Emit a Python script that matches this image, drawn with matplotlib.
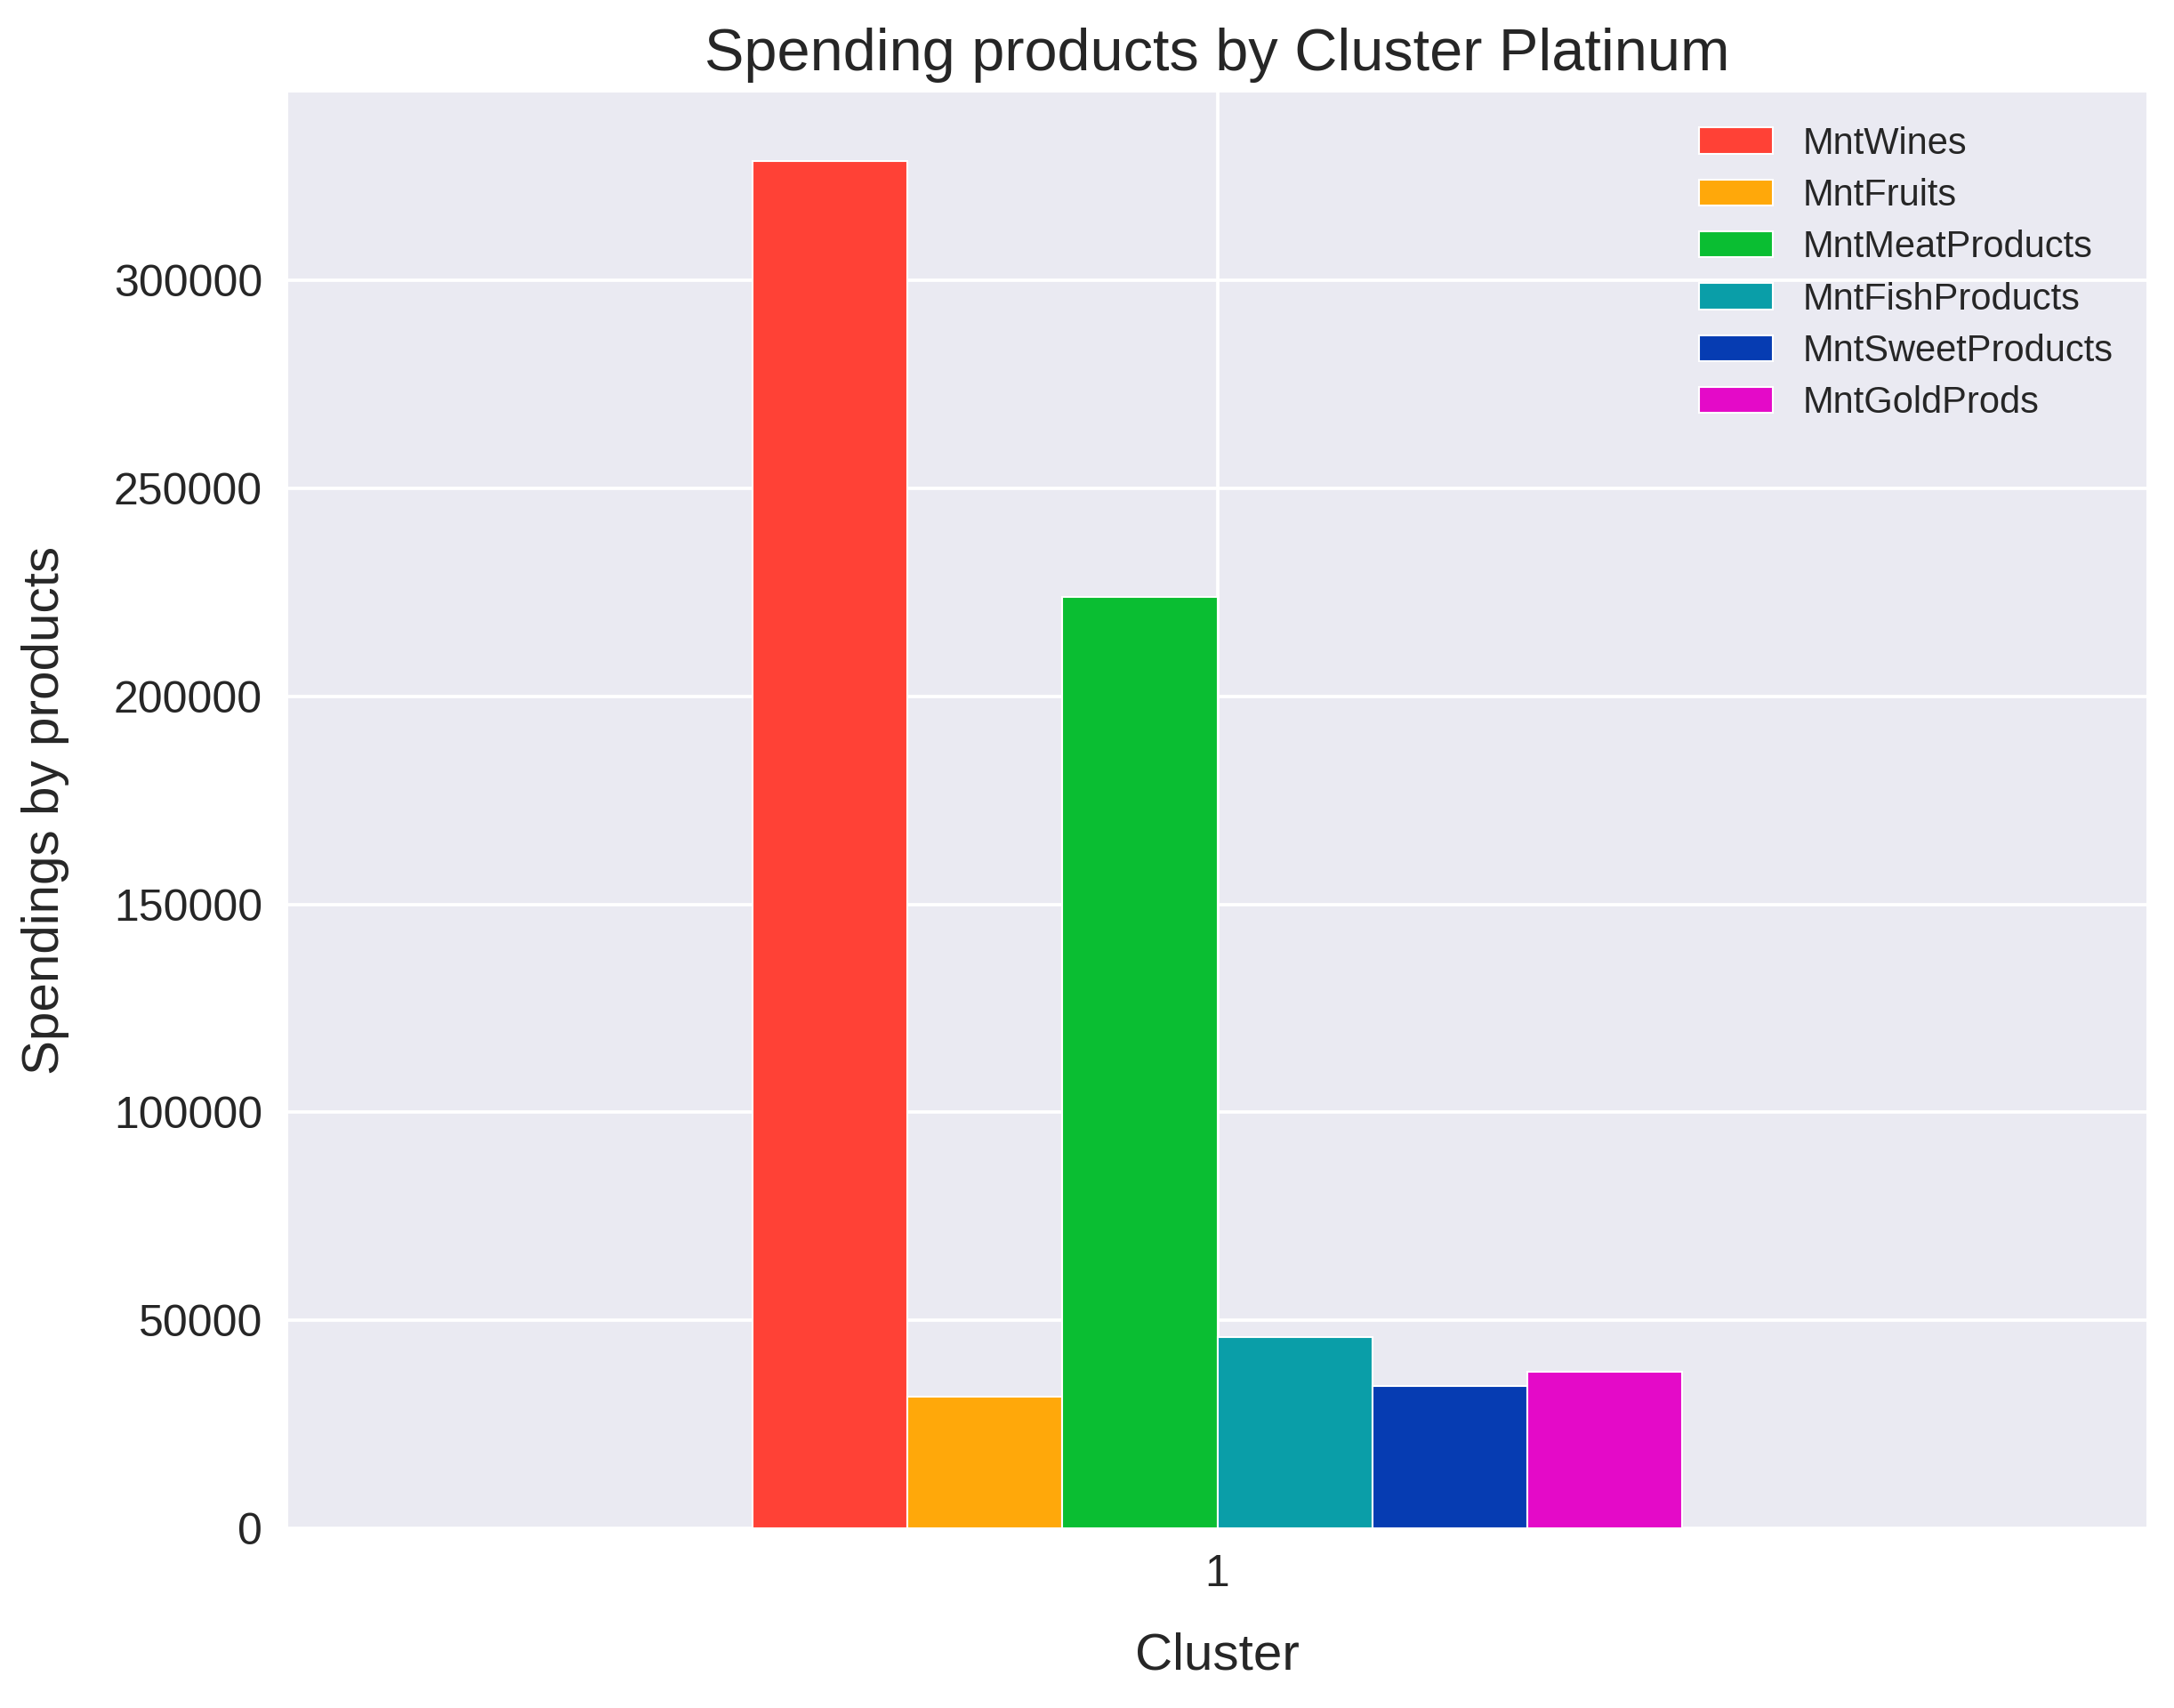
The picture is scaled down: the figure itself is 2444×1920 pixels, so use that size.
import numpy as np
import matplotlib
matplotlib.use("Agg")
import matplotlib.pyplot as plt

clusters = ["1"]
products = ["MntWines", "MntFruits", "MntMeatProducts",
            "MntFishProducts", "MntSweetProducts", "MntGoldProds"]
spend = [328700, 31600, 223800, 46000, 34300, 37550]
colors = ["#FF4136", "#FFA80A", "#0ABE32", "#0A9EA8", "#063CB2", "#E40AC8"]


def main():
    plt.style.use("seaborn-v0_8-darkgrid")
    plt.rcParams["font.family"] = ["Liberation Sans", "DejaVu Sans"]
    plt.rcParams["axes.axisbelow"] = True

    fig = plt.figure(figsize=(2444 / 300, 1920 / 300), dpi=300)
    ax = fig.add_axes([0.1326, 0.1052, 0.8547, 0.8406])

    # pandas-style grouped bars: one group of width 0.5 at x=0
    n = len(products)
    w = 0.5 / n
    x = np.arange(len(clusters))
    for i, (name, val, c) in enumerate(zip(products, spend, colors)):
        ax.bar(x - 0.25 + w * (i + 0.5), [val], width=w, color=c,
               edgecolor="white", linewidth=0.5, label=name)

    ax.set_xlim(-0.5, 0.5)
    ax.set_xticks(x)
    ax.set_xticklabels(clusters)
    ax.tick_params(axis="both", labelsize=12, length=0, pad=7)
    ax.grid(True, color="white", linewidth=0.9)

    ax.set_title("Spending products by Cluster Platinum", fontsize=16)
    ax.set_xlabel("Cluster", fontsize=14, labelpad=10)
    ax.set_ylabel("Spendings by products", fontsize=14, labelpad=12)

    ax.legend(loc="upper right", frameon=False, fontsize=10, labelspacing=0.44)

    fig.savefig("out.png", dpi=300)


if __name__ == "__main__":
    main()
